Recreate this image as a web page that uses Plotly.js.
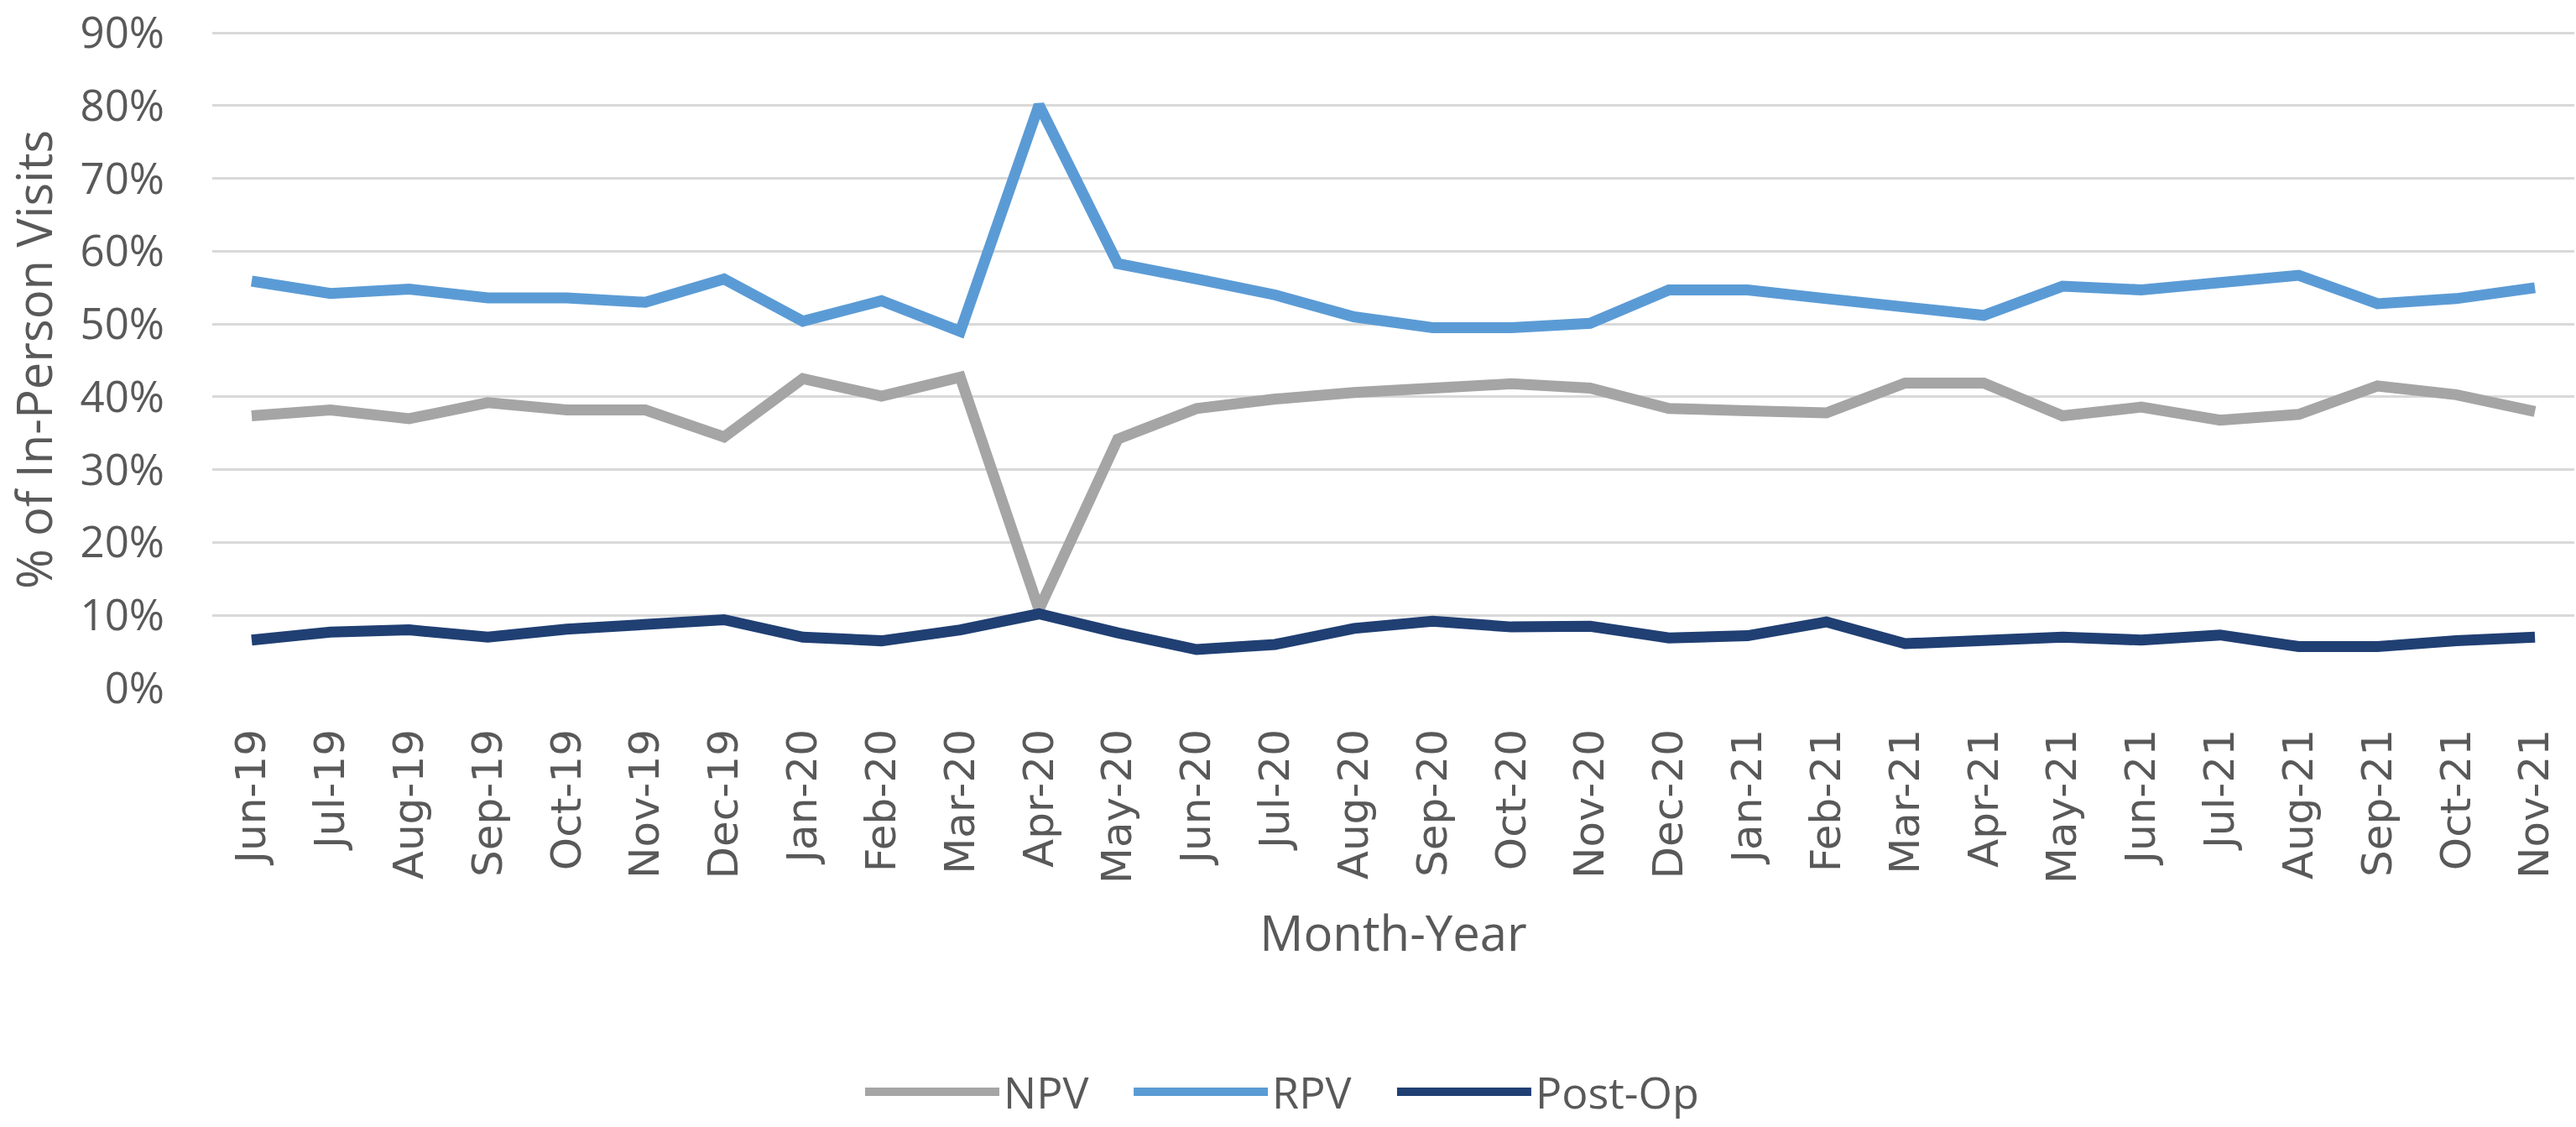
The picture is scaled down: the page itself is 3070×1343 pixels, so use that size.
<!DOCTYPE html>
<html>
<head>
<meta charset="utf-8">
<script src="https://cdn.plot.ly/plotly-3.0.1.min.js"></script>
<style>
  html, body { margin: 0; padding: 0; background: #fff; }
  #chart { width: 3070px; height: 1343px; }
</style>
</head>
<body>
<div id="chart"></div>
<script>
var months = ["Jun-19", "Jul-19", "Aug-19", "Sep-19", "Oct-19", "Nov-19", "Dec-19",
  "Jan-20", "Feb-20", "Mar-20", "Apr-20", "May-20", "Jun-20", "Jul-20", "Aug-20",
  "Sep-20", "Oct-20", "Nov-20", "Dec-20", "Jan-21", "Feb-21", "Mar-21", "Apr-21",
  "May-21", "Jun-21", "Jul-21", "Aug-21", "Sep-21", "Oct-21", "Nov-21"];

// % of in-person visits
var npv = [37.4, 38.2, 37.0, 39.2, 38.2, 38.2, 34.5, 42.5, 40.1, 42.7, 10.8, 34.2,
  38.4, 39.7, 40.6, 41.2, 41.8, 41.2, 38.4, 38.1, 37.8, 41.9, 41.9, 37.4, 38.6,
  36.8, 37.6, 41.5, 40.3, 38.0];
var rpv = [55.9, 54.2, 54.8, 53.6, 53.6, 53.0, 56.2, 50.4, 53.2, 49.0, 80.1, 58.3,
  56.2, 54.0, 51.0, 49.5, 49.5, 50.1, 54.7, 54.7, 53.5, 52.2, 51.2, 55.2, 54.7,
  55.7, 56.7, 52.8, 53.5, 55.0];
var postOp = [6.6, 7.7, 8.0, 7.0, 8.1, 8.7, 9.4, 7.0, 6.5, 8.0, 10.2, 7.6, 5.3, 6.0,
  8.2, 9.2, 8.4, 8.5, 6.9, 7.2, 9.1, 6.1, 6.6, 7.0, 6.6, 7.3, 5.7, 5.7, 6.5, 7.0];

var TXT = "#595959";
var UI_FONT = "'Open Sans', 'Liberation Sans', sans-serif";

function series(name, y, color, legendId) {
  return {
    x: months,
    y: y,
    type: "scatter",
    mode: "lines",
    name: name,
    legend: legendId,
    line: { color: color, width: 13 },
    hoverinfo: "skip"
  };
}

// one small legend per series so the entries sit where the reference has them
function legendAt(x) {
  return {
    orientation: "h",
    x: x,
    xanchor: "left",
    y: -0.6144,
    yanchor: "middle",
    bgcolor: "rgba(0,0,0,0)",
    font: { family: UI_FONT, size: 52, color: TXT },
    itemwidth: 160
  };
}

var traces = [
  series("NPV", npv, "#A5A5A5", "legend"),
  series("RPV", rpv, "#5B9BD5", "legend2"),
  series("Post-Op", postOp, "#203F73", "legend3")
];

var layout = {
  width: 3070,
  height: 1343,
  margin: { l: 253, r: 2, t: 37, b: 515 },
  paper_bgcolor: "#fff",
  plot_bgcolor: "#fff",
  font: { family: UI_FONT, color: TXT },
  showlegend: true,
  legend: legendAt(0.2746),
  legend2: legendAt(0.3883),
  legend3: legendAt(0.4998),
  xaxis: {
    type: "category",
    range: [-0.5, 29.5],
    tickangle: -90,
    tickfont: { family: "'DejaVu Sans', sans-serif", size: 50, color: TXT },
    ticks: "",
    ticklabelstandoff: 38,
    showgrid: false,
    zeroline: false,
    showline: false,
    automargin: false,
    title: {
      text: "Month-Year",
      font: { family: UI_FONT, size: 58, color: TXT },
      standoff: 40
    }
  },
  yaxis: {
    range: [0, 90.25],
    dtick: 10,
    ticksuffix: "%",
    tickfont: { family: UI_FONT, size: 51, color: TXT },
    ticklabeloverflow: "allow",
    ticks: "",
    ticklabelstandoff: 56,
    showgrid: true,
    gridcolor: "#D9D9D9",
    gridwidth: 3,
    zeroline: false,
    showline: false,
    automargin: false,
    title: {
      text: "% of In-Person Visits",
      font: { family: UI_FONT, size: 58, color: TXT },
      standoff: 64
    }
  }
};

Plotly.newPlot("chart", traces, layout, { displayModeBar: false, staticPlot: true });
</script>
</body>
</html>
